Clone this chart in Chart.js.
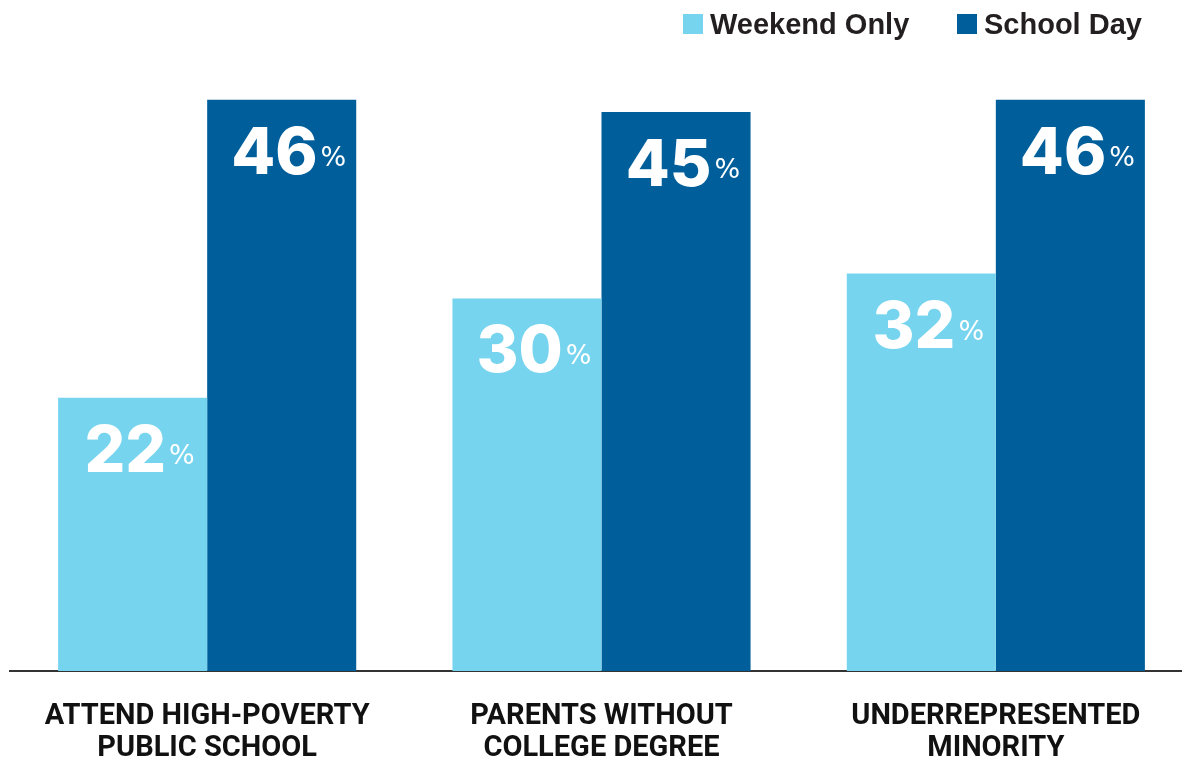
<!DOCTYPE html>
<html lang="en">
<head>
    <meta charset="UTF-8">
    <title>Weekend Only vs School Day</title>
    <script src="https://cdn.jsdelivr.net/npm/chart.js"></script>
    <style>
        html, body { margin: 0; padding: 0; background: #fff; overflow: hidden; }
        #wrap { position: relative; width: 1194px; height: 759px; }
        #legend { position: absolute; top: 14px; left: 0; }
        .item { position: absolute; top: 0; height: 20px; display: flex; align-items: center; white-space: nowrap; }
        .box { width: 20px; height: 20px; margin-right: 7px; }
        .txt { font: bold 29px "Liberation Sans", Arial, sans-serif; line-height: 20px; color: #231f20; }
    </style>
</head>
<body>
<div id="wrap">
    <canvas id="myChart" width="1194" height="759"></canvas>
    <div id="legend"></div>
</div>

<script>
    const categories = [
        ['ATTEND HIGH-POVERTY', 'PUBLIC SCHOOL'],
        ['PARENTS WITHOUT', 'COLLEGE DEGREE'],
        ['UNDERREPRESENTED', 'MINORITY']
    ];
    const seriesNames = ['Weekend Only', 'School Day'];
    const weekendOnly = [22, 30, 32];
    const schoolDay = [46, 45, 46];

    const colors = ['#76d4ef', '#005f9b'];
    const legendLeft = [683, 957];

    const numFont = '800 64px Inter, "DejaVu Sans", sans-serif';
    const pctFont = '27px "DejaVu Sans", sans-serif';

    // big number + small percent sign inside each bar, near its top
    const valueLabels = {
        id: 'valueLabels',
        afterDatasetsDraw(chart) {
            const ctx = chart.ctx;
            ctx.save();
            ctx.fillStyle = '#ffffff';
            ctx.textBaseline = 'alphabetic';
            ctx.textAlign = 'left';
            chart.data.datasets.forEach((ds, i) => {
                chart.getDatasetMeta(i).data.forEach((bar, j) => {
                    const num = String(ds.data[j]);
                    ctx.font = numFont;
                    const wNum = ctx.measureText(num).width;
                    ctx.font = pctFont;
                    const wPct = ctx.measureText('%').width;
                    const gap = 3;
                    const x0 = bar.x + 7 - (wNum + gap + wPct) / 2;
                    const yBase = bar.y + 74;
                    ctx.font = numFont;
                    ctx.fillText(num, x0, yBase);
                    ctx.font = pctFont;
                    ctx.fillText('%', x0 + wNum + gap, yBase - 8);
                });
            });
            ctx.restore();
        }
    };

    const ctx = document.getElementById('myChart').getContext('2d');
    const chart = new Chart(ctx, {
        type: 'bar',
        data: {
            labels: categories,
            datasets: [{
                label: seriesNames[0],
                data: weekendOnly,
                backgroundColor: colors[0]
            }, {
                label: seriesNames[1],
                data: schoolDay,
                backgroundColor: colors[1]
            }]
        },
        options: {
            responsive: false,
            animation: false,
            layout: { padding: { top: 50, left: 10, right: 1, bottom: 0 } },
            plugins: {
                legend: { display: false },
                tooltip: { enabled: false }
            },
            datasets: {
                bar: { categoryPercentage: 0.756, barPercentage: 1.0 }
            },
            scales: {
                x: {
                    grid: { display: false, drawTicks: false },
                    border: { display: true, color: '#333333', width: 2 },
                    ticks: {
                        color: '#111111',
                        padding: 30,
                        maxRotation: 0,
                        autoSkip: false,
                        font: { family: 'Roboto, "Liberation Sans", Arial, sans-serif', size: 29, weight: 'bold', lineHeight: 32 / 29 }
                    },
                    afterFit(scale) {
                        scale.height = 88;
                        scale.paddingLeft = 0;
                        scale.paddingRight = 0;
                    }
                },
                y: {
                    display: false,
                    min: 0,
                    max: 50
                }
            }
        },
        plugins: [valueLabels]
    });

    // legend built from the datasets
    const legend = document.getElementById('legend');
    chart.data.datasets.forEach((ds, i) => {
        const item = document.createElement('div');
        item.className = 'item';
        item.style.left = legendLeft[i] + 'px';
        item.innerHTML = '<span class="box" style="background:' + ds.backgroundColor + '"></span><span class="txt">' + ds.label + '</span>';
        legend.appendChild(item);
    });
</script>
</body>
</html>
